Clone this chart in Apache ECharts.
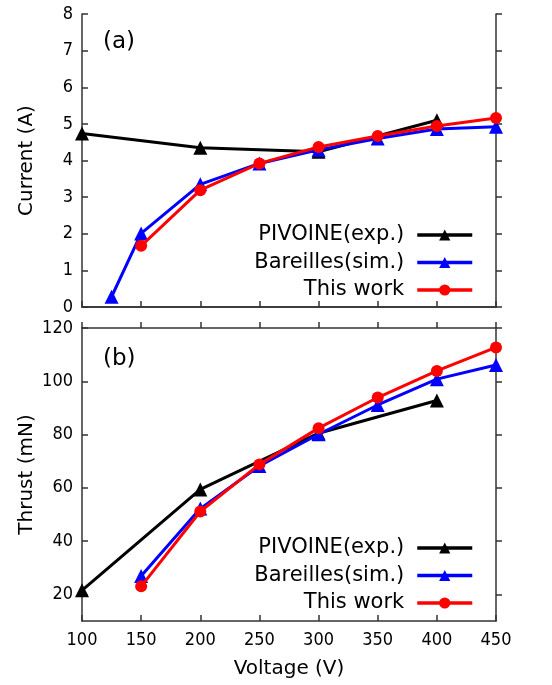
<!DOCTYPE html>
<html>
<head>
<meta charset="utf-8">
<script src="https://cdn.jsdelivr.net/npm/echarts@6/dist/echarts.min.js"></script>
<style>
  html, body { margin: 0; padding: 0; background: #fff; }
  #chart { width: 552px; height: 685px; }
</style>
</head>
<body>
<div id="chart"></div>
<script>
// 数据
const seriesNames = ['PIVOINE(exp.)', 'Bareilles(sim.)', 'This work'];

const currentExpV = [100, 200, 300, 400];
const currentExp = [4.74, 4.35, 4.24, 5.1];
const currentSimV = [125, 150, 200, 250, 300, 350, 400, 450];
const currentSim = [0.28, 2.01, 3.35, 3.92, 4.29, 4.6, 4.86, 4.92];
const currentOurV = [150, 200, 250, 300, 350, 400, 450];
const currentOur = [1.67, 3.19, 3.92, 4.37, 4.67, 4.94, 5.16];

const thrustExpV = [100, 200, 300, 400];
const thrustExp = [21.5, 59.4, 80.5, 92.8];
const thrustSimV = [150, 200, 250, 300, 350, 400, 450];
const thrustSim = [26.9, 52.2, 68.2, 80.1, 91.1, 100.8, 106.1];
const thrustOurV = [150, 200, 250, 300, 350, 400, 450];
const thrustOur = [23.0, 51.1, 68.8, 82.4, 93.9, 103.9, 112.7];

const thrustTicks = [20, 40, 60, 80, 100, 120];

const colors = ['#000000', '#0000ff', '#ff0000'];
const symbols = ['triangle', 'triangle', 'circle'];
const symbolSizes = [14, 14, 12];
const tickFont = '"DejaVu Sans Condensed", "DejaVu Sans", sans-serif';
const textFont = '"DejaVu Sans", Verdana, sans-serif';
const axisColor = '#333';

function pairs(xs, ys) {
    return xs.map((x, i) => [x, ys[i]]);
}

// 刻度朝内：左/下轴用 inside:true，上/右轴用 inside:false
function tickOf(inside) {
    return { show: true, inside: inside, length: 6, lineStyle: { color: axisColor, width: 1.5 } };
}

function xAxisOf(gridIndex, position, showLabel, name) {
    return {
        type: 'value', gridIndex, position, min: 100, max: 450, interval: 50,
        axisLine: { show: true, lineStyle: { color: axisColor, width: 1.5 } },
        axisTick: tickOf(position === 'bottom'),
        axisLabel: { show: showLabel, color: '#000', fontFamily: tickFont, fontSize: 18, margin: 10 },
        splitLine: { show: false },
        name: name || '', nameLocation: 'middle', nameGap: 38, nameMoveOverlap: false,
        nameTextStyle: { color: '#000', fontFamily: textFont, fontSize: 20 }
    };
}

function yAxisOf(gridIndex, position, showLabel, opts) {
    return Object.assign({
        type: 'value', gridIndex, position,
        axisLine: { show: true, lineStyle: { color: axisColor, width: 1.5 } },
        axisTick: tickOf(position === 'left'),
        axisLabel: { show: showLabel, color: '#000', fontFamily: tickFont, fontSize: 18, margin: 9 },
        splitLine: { show: false },
        nameLocation: 'middle', nameGap: 45, nameMoveOverlap: false,
        nameTextStyle: { color: '#000', fontFamily: textFont, fontSize: 20 }
    }, opts);
}

function lineSeries(i, xIdx, yIdx, data) {
    return {
        name: seriesNames[i], type: 'line', xAxisIndex: xIdx, yAxisIndex: yIdx,
        data: data, symbol: symbols[i], symbolSize: symbolSizes[i], showSymbol: true,
        clip: false, animation: false, z: 2 + i,
        lineStyle: { color: colors[i], width: 3 },
        itemStyle: { color: colors[i] }
    };
}

function thrustY(gridIndex, position, showLabel, name) {
    const a = yAxisOf(gridIndex, position, showLabel, { min: 10, max: 120, name: name || '' });
    a.axisLabel.customValues = thrustTicks;
    a.axisTick.customValues = thrustTicks;
    return a;
}

function legendOf(top) {
    return {
        orient: 'vertical', right: 73, top: top, align: 'right',
        itemWidth: 55, itemHeight: 14, itemGap: 5.5,
        data: seriesNames,
        lineStyle: { width: 3.5 },
        textStyle: { color: '#000', fontFamily: textFont, fontSize: 21, lineHeight: 22, padding: [0, 8, 0, 0] },
        inactiveColor: '#000', selectedMode: false
    };
}

const chart = echarts.init(document.getElementById('chart'));
chart.setOption({
    animation: false,
    grid: [
        { left: 82, top: 14, width: 414, height: 293 },
        { left: 82, top: 328, width: 414, height: 293 }
    ],
    xAxis: [
        xAxisOf(0, 'bottom', false),
        xAxisOf(0, 'top', false),
        xAxisOf(1, 'bottom', true, 'Voltage (V)'),
        xAxisOf(1, 'top', false)
    ],
    yAxis: [
        yAxisOf(0, 'left', true, { min: 0, max: 8, interval: 1, name: 'Current (A)' }),
        yAxisOf(0, 'right', false, { min: 0, max: 8, interval: 1 }),
        thrustY(1, 'left', true, 'Thrust (mN)'),
        thrustY(1, 'right', false)
    ],
    legend: [legendOf(219), legendOf(532)],
    graphic: [
        { type: 'text', left: 103, top: 31, style: { text: '(a)', fontFamily: textFont, fontSize: 23, fill: '#000' } },
        { type: 'text', left: 103, top: 348, style: { text: '(b)', fontFamily: textFont, fontSize: 23, fill: '#000' } }
    ],
    series: [
        lineSeries(0, 0, 0, pairs(currentExpV, currentExp)),
        lineSeries(1, 0, 0, pairs(currentSimV, currentSim)),
        lineSeries(2, 0, 0, pairs(currentOurV, currentOur)),
        lineSeries(0, 2, 2, pairs(thrustExpV, thrustExp)),
        lineSeries(1, 2, 2, pairs(thrustSimV, thrustSim)),
        lineSeries(2, 2, 2, pairs(thrustOurV, thrustOur))
    ]
});
</script>
</body>
</html>
